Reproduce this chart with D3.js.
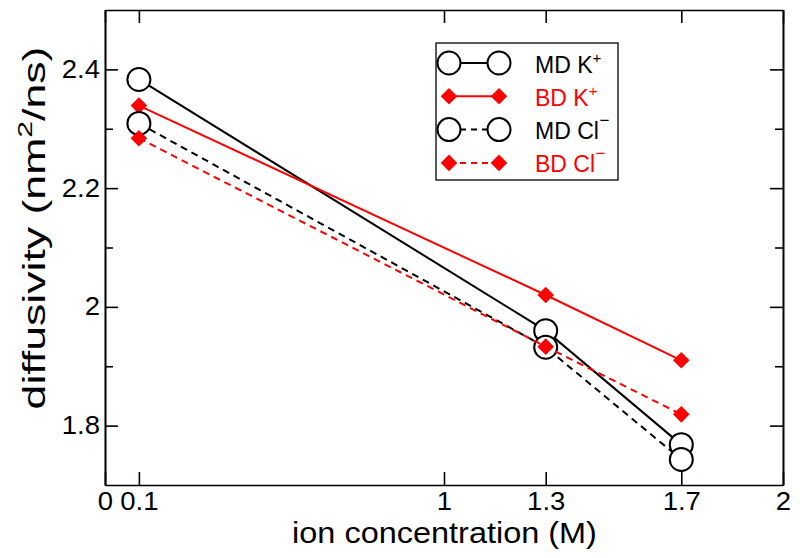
<!DOCTYPE html>
<html>
<head>
<meta charset="utf-8">
<script src="https://cdnjs.cloudflare.com/ajax/libs/d3/7.8.5/d3.min.js"></script>
<style>
  body { margin: 0; background: #fff; }
  svg { font-family: "Liberation Sans", Arial, Helvetica, sans-serif; }
</style>
</head>
<body>
<div id="chart"></div>
<script>
// data
var concentrations = [0.1, 1.3, 1.7];
var mdK  = [2.383, 1.960, 1.768];
var bdK  = [2.339, 2.020, 1.910];
var mdCl = [2.309, 1.932, 1.743];
var bdCl = [2.284, 1.933, 1.819];

var xTickValues = [0, 0.1, 1, 1.3, 1.7, 2];
var xTickLabels = ["0", "0.1", "1", "1.3", "1.7", "2"];
var yTickValues = [1.8, 2, 2.2, 2.4];
var yTickLabels = ["1.8", "2", "2.2", "2.4"];
var yMinorTicks = [1.9, 2.1, 2.3];

var W = 800, H = 558;
var margin = {left: 105, right: 17, top: 10, bottom: 73};
var width = W - margin.left - margin.right;
var height = H - margin.top - margin.bottom;

var svg = d3.select("#chart").append("svg")
    .attr("width", W)
    .attr("height", H);

var x = d3.scaleLinear().domain([0, 2]).range([margin.left, margin.left + width]);
var y = d3.scaleLinear().domain([1.7, 2.5]).range([margin.top + height, margin.top]);

var majorLen = 13, minorLen = 8;
var tickFont = 25, tickStretch = 1.1;

// frame with mirrored ticks
function drawAxes() {
    var g = svg.append("g").attr("class", "axes");

    var bottom = d3.axisBottom(x).tickValues(xTickValues)
        .tickFormat(function(d, i){ return xTickLabels[i]; })
        .tickSizeInner(-majorLen).tickSizeOuter(0).tickPadding(7);
    var top = d3.axisTop(x).tickValues(xTickValues)
        .tickFormat("").tickSizeInner(-majorLen).tickSizeOuter(0);
    var left = d3.axisLeft(y).tickValues(yTickValues)
        .tickFormat(function(d, i){ return yTickLabels[i]; })
        .tickSizeInner(-majorLen).tickSizeOuter(0).tickPadding(5 / tickStretch);
    var right = d3.axisRight(y).tickValues(yTickValues)
        .tickFormat("").tickSizeInner(-majorLen).tickSizeOuter(0);
    var leftMinor = d3.axisLeft(y).tickValues(yMinorTicks)
        .tickFormat("").tickSizeInner(-minorLen).tickSizeOuter(0);
    var rightMinor = d3.axisRight(y).tickValues(yMinorTicks)
        .tickFormat("").tickSizeInner(-minorLen).tickSizeOuter(0);

    g.append("g").attr("transform", "translate(0," + (margin.top + height) + ")").call(bottom);
    g.append("g").attr("transform", "translate(0," + margin.top + ")").call(top);
    g.append("g").attr("transform", "translate(" + margin.left + ",0)").call(left);
    g.append("g").attr("transform", "translate(" + margin.left + ",0)").call(leftMinor);
    g.append("g").attr("transform", "translate(" + (margin.left + width) + ",0)").call(right);
    g.append("g").attr("transform", "translate(" + (margin.left + width) + ",0)").call(rightMinor);

    g.selectAll(".domain").attr("stroke", "#000").attr("stroke-width", 1.6);
    g.selectAll(".tick line").attr("stroke", "#000").attr("stroke-width", 1.6);
    g.selectAll(".tick text").attr("fill", "#000")
        .attr("font-size", tickFont)
        .attr("font-family", "Liberation Sans, Arial, sans-serif")
        .attr("transform", "scale(" + tickStretch + ",1)");
}
drawAxes();

// stretch a title along its baseline to the width seen in the reference
function fitLength(sel, len) {
    var w = sel.node().getComputedTextLength();
    return len / w;
}

// axis titles
var xTitle = svg.append("text")
    .attr("text-anchor", "middle")
    .style("font-size", "29px")
    .text("ion concentration (M)");
xTitle.attr("transform", "translate(444.5,543) scale(" + fitLength(xTitle, 305) + ",1)");

var yTitle = svg.append("text")
    .attr("text-anchor", "middle")
    .style("font-size", "31px");
yTitle.append("tspan").text("diffusivity (nm");
yTitle.append("tspan").attr("dy", -13).style("font-size", "21px").text("2");
yTitle.append("tspan").attr("dy", 13).text("/ns)");
yTitle.attr("transform", "translate(45,228) rotate(-90) scale(" + fitLength(yTitle, 363) + ",1)");

// series
var series = [
    {name: "MD", ion: "K",  values: mdK,  color: "#000", dash: null,  marker: "circle"},
    {name: "BD", ion: "K",  values: bdK,  color: "#f00", dash: null,  marker: "diamond"},
    {name: "MD", ion: "Cl", values: mdCl, color: "#000", dash: "7,5", marker: "circle"},
    {name: "BD", ion: "Cl", values: bdCl, color: "#f00", dash: "7,5", marker: "diamond"}
];

var line = d3.line()
    .x(function(d){ return x(d.c); })
    .y(function(d){ return y(d.v); });

var diamondPath = d3.symbol().type(d3.symbolDiamond2).size(175);

function drawMarker(g, m, color) {
    if (m == "circle") {
        g.append("circle").attr("r", 11.5)
            .attr("fill", "#fff").attr("stroke", color).attr("stroke-width", 2);
    } else {
        g.append("path").attr("d", diamondPath())
            .attr("fill", color).attr("stroke", "none");
    }
}

series.forEach(function(s){
    var pts = s.values.map(function(v, i){ return {c: concentrations[i], v: v}; });
    svg.append("path")
        .datum(pts)
        .attr("d", line)
        .attr("fill", "none")
        .attr("stroke", s.color)
        .attr("stroke-width", 2)
        .attr("stroke-dasharray", s.dash);

    pts.forEach(function(p){
        var g = svg.append("g").attr("transform", "translate(" + x(p.c) + "," + y(p.v) + ")");
        drawMarker(g, s.marker, s.color);
    });
});

// legend
var legend = svg.append("g").attr("class", "legend");
legend.append("rect")
    .attr("x", 436).attr("y", 43)
    .attr("width", 182).attr("height", 137)
    .attr("fill", "#fff").attr("stroke", "#000").attr("stroke-width", 1.3);

series.forEach(function(s, i){
    var yy = 63 + i * 33.3;
    legend.append("line")
        .attr("x1", 449).attr("x2", 499)
        .attr("y1", yy).attr("y2", yy)
        .attr("stroke", s.color).attr("stroke-width", 2)
        .attr("stroke-dasharray", s.dash ? "6,5" : null);
    [449, 499].forEach(function(xx){
        var g = legend.append("g").attr("transform", "translate(" + xx + "," + yy + ")");
        drawMarker(g, s.marker, s.color);
    });
    var t = legend.append("text")
        .attr("x", 535).attr("y", yy + 9.5)
        .attr("fill", s.color)
        .style("font-size", "23px");
    t.append("tspan").text(s.name + " " + s.ion);
    if (s.ion == "K") {
        t.append("tspan").attr("dy", -10).style("font-size", "15px").text("+");
    } else {
        t.append("tspan").attr("dy", -13).attr("dx", 0.5).style("font-size", "17px").text("\u2212");
    }
});
</script>
</body>
</html>
